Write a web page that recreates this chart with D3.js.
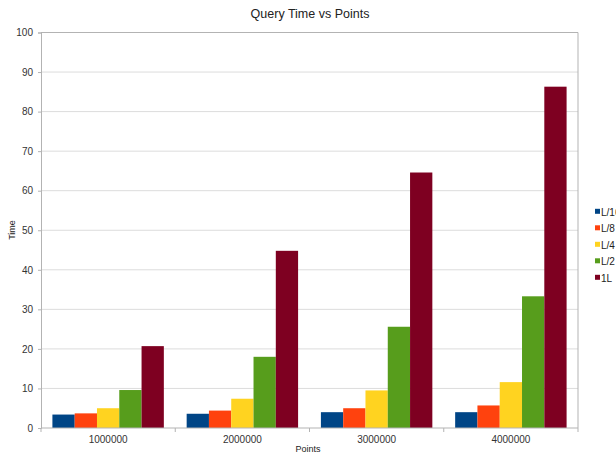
<!DOCTYPE html>
<html>
<head>
<meta charset="utf-8">
<script src="https://cdn.jsdelivr.net/npm/d3@7/dist/d3.min.js"></script>
<style>
  html, body { margin: 0; padding: 0; background: #fff; }
  svg { display: block; font-family: "Liberation Sans", Arial, sans-serif; }
</style>
</head>
<body>
<svg id="chart" width="616" height="455"></svg>
<script>
// Query time per dataset size, one series per L fraction
const categories = ["1000000", "2000000", "3000000", "4000000"];
const seriesNames = ["L/16", "L/8", "L/4", "L/2", "1L"];
const seriesColors = ["#004586", "#ff420e", "#ffd320", "#579d1c", "#7e0021"];
const valuesL16 = [3.4, 3.6, 4.0, 4.0];
const valuesL8  = [3.7, 4.4, 5.0, 5.7];
const valuesL4  = [5.0, 7.4, 9.5, 11.6];
const valuesL2  = [9.6, 18.0, 25.6, 33.3];
const values1L  = [20.7, 44.8, 64.6, 86.3];
const yTicks = [0, 10, 20, 30, 40, 50, 60, 70, 80, 90, 100];

const seriesValues = [valuesL16, valuesL8, valuesL4, valuesL2, values1L];

const svg = d3.select("#chart");
const plotLeft = 41, plotRight = 578, plotTop = 32.5, plotBottom = 428;

const x0 = d3.scaleBand().domain(categories).range([plotLeft, plotRight])
  .paddingInner(0.17).paddingOuter(0.085);
const x1 = d3.scaleBand().domain(seriesNames).range([0, x0.bandwidth()]).padding(0);
const y = d3.scaleLinear().domain([0, 100]).range([plotBottom, plotTop]);

// horizontal gridlines
svg.append("g").selectAll("line").data(yTicks.filter(t => t > 0 && t < 100)).join("line")
  .attr("x1", plotLeft).attr("x2", plotRight)
  .attr("y1", d => y(d)).attr("y2", d => y(d))
  .attr("stroke", "#dcdcdc").attr("stroke-width", 1);

// plot frame (top, right)
svg.append("path")
  .attr("d", `M${plotLeft},${plotTop}H${plotRight}V${plotBottom}`)
  .attr("fill", "none").attr("stroke", "#b3b3b3").attr("stroke-width", 1);

// bars
const groups = svg.append("g").selectAll("g").data(categories).join("g")
  .attr("transform", d => `translate(${x0(d)},0)`);
groups.selectAll("rect")
  .data((c, ci) => seriesNames.map((s, si) => ({ s, si, v: seriesValues[si][ci] })))
  .join("rect")
  .attr("x", d => x1(d.s))
  .attr("width", x1.bandwidth())
  .attr("y", d => y(d.v))
  .attr("height", d => y(0) - y(d.v))
  .attr("fill", d => seriesColors[d.si]);

// y axis
const yAxis = svg.append("g").attr("transform", `translate(${plotLeft},0)`)
  .call(d3.axisLeft(y).tickValues(yTicks).tickSize(3).tickPadding(5).tickFormat(d3.format("d")));
yAxis.select(".domain").attr("stroke", "#b3b3b3");
yAxis.selectAll(".tick line").attr("stroke", "#b3b3b3");
yAxis.selectAll("text").attr("fill", "#333").style("font-size", "10px");

// x axis with ticks on band boundaries
const xAxisG = svg.append("g");
xAxisG.append("line").attr("x1", plotLeft).attr("x2", plotRight)
  .attr("y1", plotBottom).attr("y2", plotBottom).attr("stroke", "#b3b3b3");
const step = x0.step();
const boundaries = categories.map(c => x0(c) - x0.paddingInner() * step / 2)
  .concat([plotRight]);
xAxisG.selectAll("line.tk").data(boundaries).join("line").attr("class", "tk")
  .attr("x1", d => d).attr("x2", d => d)
  .attr("y1", plotBottom).attr("y2", plotBottom + 4).attr("stroke", "#b3b3b3");
xAxisG.selectAll("text").data(categories).join("text")
  .attr("x", d => x0(d) + x0.bandwidth() / 2)
  .attr("y", plotBottom + 15)
  .attr("text-anchor", "middle")
  .attr("fill", "#333").style("font-size", "10px")
  .text(d => d);

// title and axis labels
svg.append("text").attr("x", 310).attr("y", 18).attr("text-anchor", "middle")
  .attr("fill", "#222").style("font-size", "12.5px").text("Query Time vs Points");
svg.append("text").attr("x", 308).attr("y", 452).attr("text-anchor", "middle")
  .attr("fill", "#222").style("font-size", "9px").text("Points");
svg.append("text").attr("transform", "translate(15,230) rotate(-90)")
  .attr("text-anchor", "middle").attr("fill", "#222").style("font-size", "9px").text("Time");

// legend
const legend = svg.append("g").selectAll("g").data(seriesNames).join("g")
  .attr("transform", (d, i) => `translate(595,${211.3 + i * 16.5})`);
legend.append("rect").attr("x", 0).attr("y", -2.5).attr("width", 5).attr("height", 5)
  .attr("fill", (d, i) => seriesColors[i]);
legend.append("text").attr("x", 6).attr("y", 4.5)
  .attr("fill", "#222").style("font-size", "10px").text(d => d);
</script>
</body>
</html>
